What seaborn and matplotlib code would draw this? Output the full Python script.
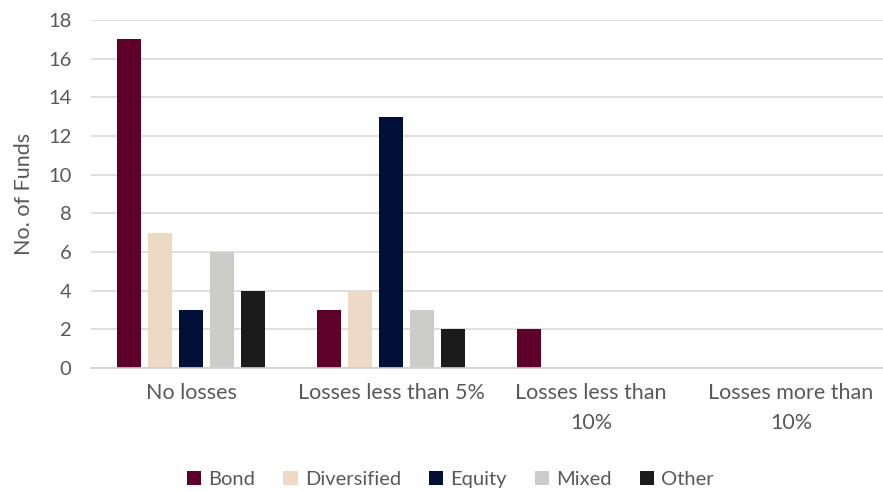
import matplotlib
matplotlib.use("Agg")
import matplotlib.pyplot as plt
import seaborn as sns
import pandas as pd

categories = ["No losses", "Losses less than 5%", "Losses less than\n10%", "Losses more than\n10%"]
series = ["Bond", "Diversified", "Equity", "Mixed", "Other"]
bond = [17, 3, 2, 0]
diversified = [7, 4, 0, 0]
equity = [3, 13, 0, 0]
mixed = [6, 3, 0, 0]
other = [4, 2, 0, 0]
colors = ["#5E0029", "#EDD9C4", "#001038", "#CCCCC8", "#1B1B1B"]
yticks = [0, 2, 4, 6, 8, 10, 12, 14, 16, 18]

rows = []
for name, vals in zip(series, [bond, diversified, equity, mixed, other]):
    for c, v in zip(categories, vals):
        rows.append({"Category": c, "Series": name, "Value": v})
df = pd.DataFrame(rows)

sns.set_theme(style="white")
plt.rcParams["font.family"] = ["Lato", "DejaVu Sans"]
text_color = "#595959"

fig = plt.figure(figsize=(8.83, 4.92), dpi=100)
ax = fig.add_axes([0.103, 0.252, 0.897, 0.707])
sns.barplot(data=df, x="Category", y="Value", hue="Series", order=categories,
            hue_order=series, palette=colors, width=0.775, gap=0.22,
            saturation=1, ax=ax, errorbar=None, legend=True, linewidth=0)

ax.set_ylim(0, 18)
ax.set_xlim(-0.5, 3.46)
ax.set_yticks(yticks)
ax.set_yticklabels([str(t) for t in yticks])
ax.yaxis.grid(True, color="#D9D9D9", linewidth=1.2)
ax.set_axisbelow(True)
for s in ["top", "right", "left"]:
    ax.spines[s].set_visible(False)
ax.spines["bottom"].set_color("#D0D0D0")
ax.spines["bottom"].set_linewidth(1.2)
ax.tick_params(axis="y", length=0, labelsize=14.5, colors=text_color, pad=14)
ax.tick_params(axis="x", length=0, labelsize=15.5, colors=text_color, pad=11)
for lbl in ax.get_xticklabels():
    lbl.set_linespacing(1.6)
ax.set_xlabel("")
ax.set_ylabel("No. of Funds", fontsize=15.5, color=text_color, labelpad=10)

handles, labels = ax.get_legend_handles_labels()
ax.get_legend().remove()
leg = fig.legend(handles, labels, loc="center", bbox_to_anchor=(0.51, 0.025), ncol=5,
                 frameon=False, fontsize=14.5, handlelength=0.7, handleheight=0.7,
                 handletextpad=0.35, columnspacing=1.4)
for t in leg.get_texts():
    t.set_color(text_color)

fig.savefig("out.png", dpi=100)
